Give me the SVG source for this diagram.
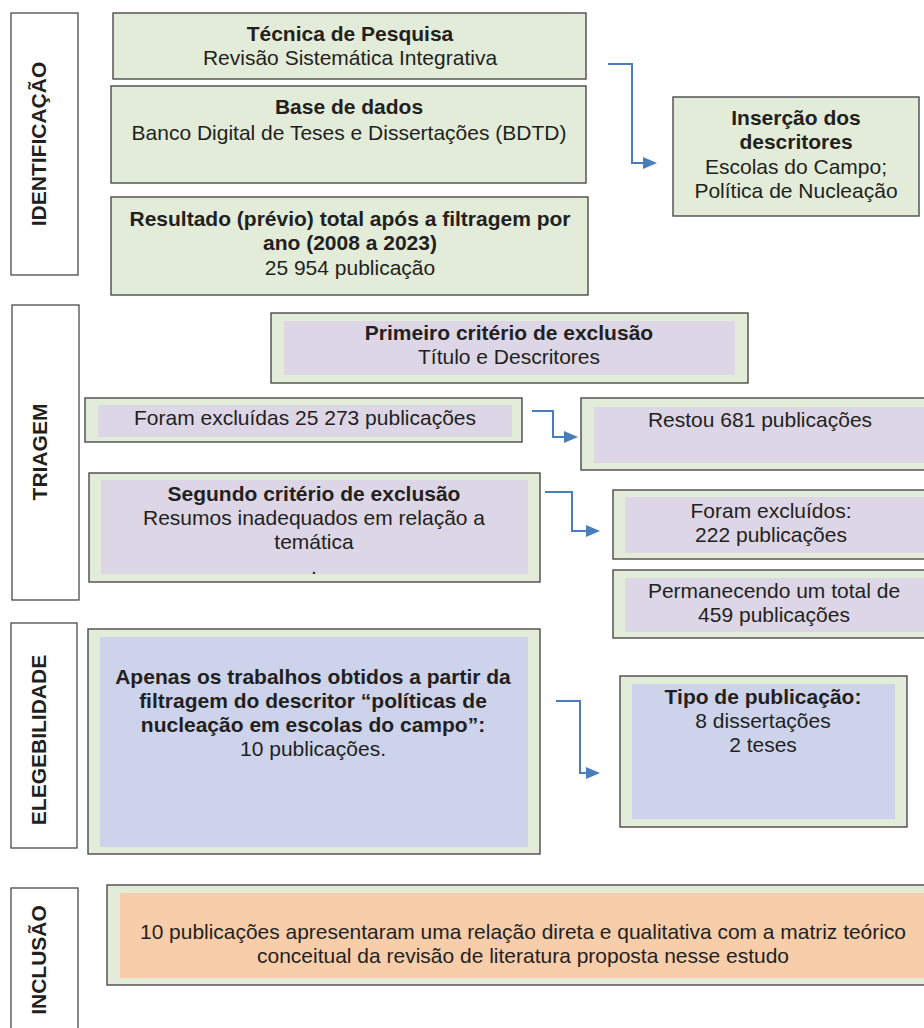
<svg xmlns="http://www.w3.org/2000/svg" width="924" height="1028" viewBox="0 0 924 1028">
<style>
text{font-family:"Liberation Sans",Arial,sans-serif;fill:#231f20;font-size:21px;text-anchor:middle}
.b{font-weight:bold}
.side{font-weight:bold;font-size:21px}
.frame{fill:#ffffff;stroke:#4a4a4a;stroke-width:1.3}
.g{fill:#e2ecd9;stroke:#4a4a4a;stroke-width:1.4}
.lav{fill:#ddd6e6}
.blu{fill:#cdd3eb}
.pch{fill:#f8cdaa}
.con{fill:none;stroke:#4a7ebb;stroke-width:2}
</style>
<defs>
<marker id="ah" markerWidth="14" markerHeight="12" refX="2" refY="6" orient="auto" markerUnits="userSpaceOnUse">
<path d="M0,0 L14,6 L0,12 Z" fill="#4a7ebb"/>
</marker>
</defs>

<g id="label-identificacao">
<rect class="frame" x="11" y="13" width="67" height="262"/>
<text class="side" transform="translate(46,144) rotate(-90)">IDENTIFICAÇÃO</text>
</g>
<g id="label-triagem">
<rect class="frame" x="12" y="305" width="67" height="295"/>
<text class="side" transform="translate(47,452) rotate(-90)">TRIAGEM</text>
</g>
<g id="label-elegebilidade">
<rect class="frame" x="11" y="623" width="66" height="225"/>
<text class="side" transform="translate(46,740) rotate(-90)">ELEGEBILIDADE</text>
</g>
<g id="label-inclusao">
<rect class="frame" x="11" y="888" width="67" height="145"/>
<text class="side" transform="translate(46,960) rotate(-90)">INCLUSÃO</text>
</g>

<g id="n-tecnica">
<rect class="g" x="113" y="13" width="473" height="66"/>
<text class="b" x="350" y="41">Técnica de Pesquisa</text>
<text x="350" y="65">Revisão Sistemática Integrativa</text>
</g>
<g id="n-base">
<rect class="g" x="111" y="86" width="475" height="97"/>
<text class="b" x="349" y="114">Base de dados</text>
<text x="349" y="140">Banco Digital de Teses e Dissertações (BDTD)</text>
</g>
<g id="n-resultado">
<rect class="g" x="111" y="197" width="477" height="98"/>
<text class="b" x="350" y="226">Resultado (prévio) total após a filtragem por</text>
<text class="b" x="350" y="250">ano (2008 a 2023)</text>
<text x="350" y="275">25 954 publicação</text>
</g>
<g id="n-insercao">
<rect class="g" x="673" y="97" width="246" height="119"/>
<text class="b" x="796" y="125">Inserção dos</text>
<text class="b" x="796" y="149">descritores</text>
<text x="796" y="174">Escolas do Campo;</text>
<text x="796" y="198">Política de Nucleação</text>
</g>

<g id="n-primeiro">
<rect class="g" x="271" y="313" width="477" height="70"/>
<rect class="lav" x="284" y="321" width="451" height="54"/>
<text class="b" x="509" y="340">Primeiro critério de exclusão</text>
<text x="509" y="364">Título e Descritores</text>
</g>
<g id="n-excluidas">
<rect class="g" x="85" y="398" width="437" height="44"/>
<rect class="lav" x="98" y="405" width="414" height="32"/>
<text x="305" y="425">Foram excluídas 25 273 publicações</text>
</g>
<g id="n-restou">
<rect class="g" x="581" y="398" width="350" height="72"/>
<rect class="lav" x="594" y="407" width="330" height="56"/>
<text x="760" y="427">Restou 681 publicações</text>
</g>
<g id="n-segundo">
<rect class="g" x="89" y="473" width="451" height="109"/>
<rect class="lav" x="101" y="480" width="427" height="94"/>
<text class="b" x="314" y="501">Segundo critério de exclusão</text>
<text x="314" y="525">Resumos inadequados em relação a</text>
<text x="314" y="549">temática</text>
<text x="314" y="574">.</text>
</g>
<g id="n-excluidos">
<rect class="g" x="613" y="490" width="318" height="69"/>
<rect class="lav" x="625" y="497" width="299" height="56"/>
<text x="771" y="518">Foram excluídos:</text>
<text x="771" y="542">222 publicações</text>
</g>
<g id="n-permanecendo">
<rect class="g" x="613" y="570" width="318" height="68"/>
<rect class="lav" x="625" y="578" width="299" height="54"/>
<text x="774" y="598">Permanecendo um total de</text>
<text x="774" y="622">459 publicações</text>
</g>

<g id="n-apenas">
<rect class="g" x="88" y="629" width="452" height="225"/>
<rect class="blu" x="100" y="637" width="428" height="210"/>
<text class="b" x="313" y="684">Apenas os trabalhos obtidos a partir da</text>
<text class="b" x="313" y="708">filtragem do descritor “políticas de</text>
<text class="b" x="313" y="732">nucleação em escolas do campo”:</text>
<text x="313" y="756">10 publicações.</text>
</g>
<g id="n-tipo">
<rect class="g" x="620" y="676" width="287" height="151"/>
<rect class="blu" x="632" y="684" width="263" height="135"/>
<text class="b" x="763" y="704">Tipo de publicação:</text>
<text x="763" y="728">8 dissertações</text>
<text x="763" y="752">2 teses</text>
</g>

<g id="n-inclusao">
<rect class="g" x="107" y="885" width="830" height="100"/>
<rect class="pch" x="120" y="893" width="810" height="85"/>
<text x="523" y="939" textLength="766" lengthAdjust="spacingAndGlyphs">10 publicações apresentaram uma relação direta e qualitativa com a matriz teórico</text>
<text x="523" y="963" textLength="532" lengthAdjust="spacingAndGlyphs">conceitual da revisão de literatura proposta nesse estudo</text>
</g>

<g id="connectors">
<path class="con" d="M608,64 H632 V163 H645" marker-end="url(#ah)"/>
<path class="con" d="M532,411 H553 V437 H566" marker-end="url(#ah)"/>
<path class="con" d="M545,492 H572 V531 H588" marker-end="url(#ah)"/>
<path class="con" d="M556,701 H580 V773 H588" marker-end="url(#ah)"/>
</g>
</svg>
